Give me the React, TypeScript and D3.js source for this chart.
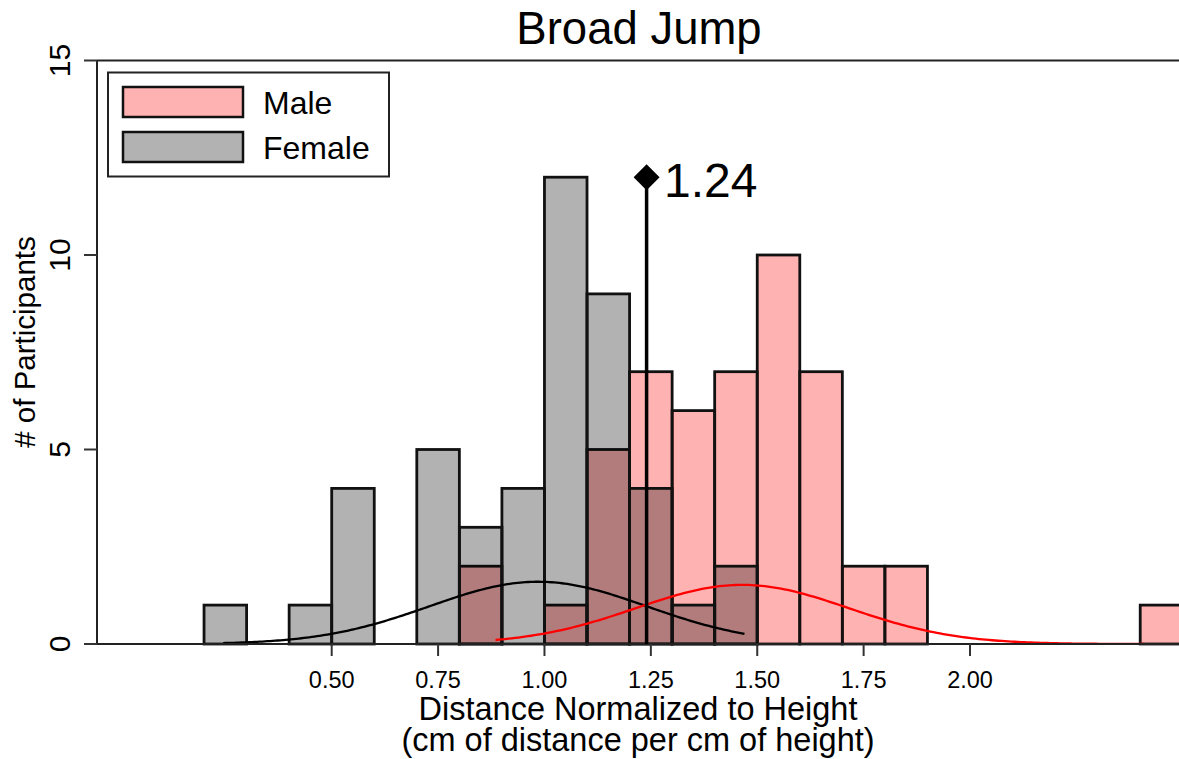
import React from "react";
import * as d3 from "d3";

const binStarts = [0.2, 0.3, 0.4, 0.5, 0.6, 0.7, 0.8, 0.9, 1.0, 1.1, 1.2, 1.3, 1.4, 1.5, 1.6, 1.7, 1.8, 1.9, 2.0, 2.1, 2.2, 2.3, 2.4];
const binWidth = 0.1;
const femaleCounts = [1, 0, 1, 4, 0, 5, 3, 4, 12, 9, 4, 1, 2, 0, 0, 0, 0, 0, 0, 0, 0, 0, 0];
const maleCounts = [0, 0, 0, 0, 0, 0, 2, 0, 1, 5, 7, 6, 7, 10, 7, 2, 2, 0, 0, 0, 0, 0, 1];
const xTicks = [0.5, 0.75, 1.0, 1.25, 1.5, 1.75, 2.0];
const yTicks = [0, 5, 10, 15];
const meanValue = 1.24;
const meanMarkerY = 12;
// fitted normal curves: mean, sd, peak height, drawn range
const femaleFit = { mean: 0.985, sd: 0.255, peak: 1.6, from: 0.245, to: 1.47 };
const maleFit = { mean: 1.465, sd: 0.25, peak: 1.52, from: 0.885, to: 2.41 };
const legendItems = [
  { label: "Male", fill: "rgba(255,0,0,0.3)" },
  { label: "Female", fill: "rgba(0,0,0,0.3)" },
];

const FONT = "'Liberation Sans', Arial, sans-serif";

export default function App() {
  const W = 1179, H = 759;
  const x = d3.scaleLinear().domain([0.5, 2.0]).range([331.7, 970]);
  const y = d3.scaleLinear().domain([0, 15]).range([644, 60.5]);
  const left = 97, right = 1183, top = y(15), bottom = y(0);

  const curve = (f: typeof femaleFit) => {
    const pts: [number, number][] = [];
    const n = 200;
    for (let i = 0; i <= n; i++) {
      const v = f.from + ((f.to - f.from) * i) / n;
      const h = f.peak * Math.exp(-((v - f.mean) ** 2) / (2 * f.sd * f.sd));
      pts.push([x(v), y(h)]);
    }
    return d3.line()(pts) || "";
  };

  const bars = (counts: number[], fill: string) =>
    binStarts.map((b, i) =>
      counts[i] > 0 ? (
        <rect
          key={i}
          x={x(b)}
          y={y(counts[i])}
          width={x(b + binWidth) - x(b)}
          height={y(0) - y(counts[i])}
          fill={fill}
          stroke="#111"
          strokeWidth={2.8}
        />
      ) : null
    );

  const mx = x(meanValue), my = y(meanMarkerY);

  return (
    <svg width={W} height={H} style={{ position: "absolute", left: 0, top: 0, background: "#fff" }} fontFamily={FONT}>
      <rect x={0} y={0} width={W} height={H} fill="#fff" />
      {bars(maleCounts, "rgba(255,0,0,0.3)")}
      {bars(femaleCounts, "rgba(0,0,0,0.3)")}
      <path d={curve(femaleFit)} fill="none" stroke="#000" strokeWidth={2.3} />
      <path d={curve(maleFit)} fill="none" stroke="#ff0000" strokeWidth={2.3} />

      {/* frame / axes */}
      <line x1={left} x2={right} y1={top} y2={top} stroke="#222" strokeWidth={2} />
      <line x1={left} x2={left} y1={top} y2={bottom} stroke="#222" strokeWidth={2} />
      <line x1={left} x2={right} y1={bottom} y2={bottom} stroke="#222" strokeWidth={2} />

      {yTicks.map((t) => (
        <g key={t}>
          <line x1={84} x2={left} y1={y(t)} y2={y(t)} stroke="#333" strokeWidth={2} />
          <text
            transform={`translate(70,${y(t)}) rotate(-90)`}
            textAnchor="middle"
            fontSize={30}
            fill="#000"
          >
            {t}
          </text>
        </g>
      ))}
      {xTicks.map((t) => (
        <g key={t}>
          <line x1={x(t)} x2={x(t)} y1={bottom} y2={656} stroke="#333" strokeWidth={2} />
          <text x={x(t)} y={688} textAnchor="middle" fontSize={23.5} fill="#000">
            {t.toFixed(2)}
          </text>
        </g>
      ))}

      {/* mean line */}
      <line x1={mx} x2={mx} y1={bottom} y2={my} stroke="#000" strokeWidth={3.5} />
      <path d={`M${mx},${my - 13} L${mx + 13},${my} L${mx},${my + 13} L${mx - 13},${my} Z`} fill="#000" />
      <text x={664} y={197} fontSize={48} fill="#000">
        {meanValue.toFixed(2)}
      </text>

      {/* titles */}
      <text x={639} y={44} textAnchor="middle" fontSize={45.5} fill="#000">
        Broad Jump
      </text>
      <text x={638} y={719.5} textAnchor="middle" fontSize={32.5} fill="#000">
        Distance Normalized to Height
      </text>
      <text x={638} y={750.5} textAnchor="middle" fontSize={32.5} fill="#000">
        (cm of distance per cm of height)
      </text>
      <text transform={`translate(35,342) rotate(-90)`} textAnchor="middle" fontSize={29.5} fill="#000">
        # of Participants
      </text>

      {/* legend */}
      <rect x={108} y={72.5} width={281} height={104} fill="#fff" stroke="#222" strokeWidth={2} />
      {legendItems.map((it, i) => (
        <g key={it.label}>
          <rect x={123} y={87 + i * 45} width={120} height={30} fill={it.fill} stroke="#111" strokeWidth={2.5} />
          <text x={263} y={113.5 + i * 45} fontSize={32} fill="#000">
            {it.label}
          </text>
        </g>
      ))}
    </svg>
  );
}
